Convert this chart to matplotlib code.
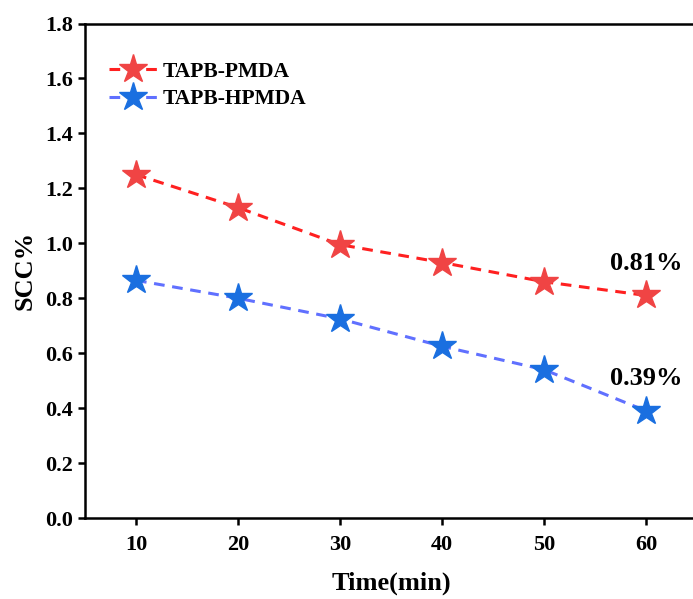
import matplotlib
matplotlib.use('Agg')
import matplotlib.pyplot as plt

# data
time_min = [10, 20, 30, 40, 50, 60]
scc_pmda = [1.25, 1.13, 0.995, 0.93, 0.86, 0.81]
scc_hpmda = [0.865, 0.80, 0.725, 0.625, 0.54, 0.39]
labels = ['TAPB-PMDA', 'TAPB-HPMDA']
end_notes = ['0.81%', '0.39%']

plt.rcParams['font.family'] = ['Liberation Serif', 'DejaVu Serif']
plt.rcParams['font.weight'] = 'bold'

fig = plt.figure(figsize=(6.93, 5.99), dpi=100)
ax = fig.add_axes([85 / 693, 1 - 518 / 599, (697 - 85) / 693, (518 - 23.5) / 599])

ax.plot(time_min, scc_pmda, linestyle=(0, (3.5, 2.5)), color='#ff2020', lw=2.2,
        marker='*', ms=21, markerfacecolor='#f04444', markeredgecolor='#f04444',
        label=labels[0])
ax.plot(time_min, scc_hpmda, linestyle=(0, (3.5, 2.5)), color='#6070ff', lw=2.2,
        marker='*', ms=21, markerfacecolor='#1a6fe0', markeredgecolor='#1a6fe0',
        label=labels[1])

ax.annotate(end_notes[0], (time_min[-1], scc_pmda[-1]), textcoords='offset points',
            xytext=(0, 15), ha='center', va='bottom', fontsize=19, fontweight='bold')
ax.annotate(end_notes[1], (time_min[-1], scc_hpmda[-1]), textcoords='offset points',
            xytext=(0, 15), ha='center', va='bottom', fontsize=19, fontweight='bold')

ax.set_xlim(5, 65)
ax.set_ylim(0, 1.8)
ax.set_xticks(time_min)
ax.set_yticks([0.0, 0.2, 0.4, 0.6, 0.8, 1.0, 1.2, 1.4, 1.6, 1.8])
ax.yaxis.set_major_formatter(matplotlib.ticker.FormatStrFormatter('%.1f'))

for s in ['left', 'bottom', 'top']:
    ax.spines[s].set_linewidth(1.8)
ax.spines['right'].set_visible(False)
ax.tick_params(direction='out', length=5, width=1.8, labelsize=16)
ax.tick_params(axis='x', pad=7)
for t in ax.get_xticklabels() + ax.get_yticklabels():
    t.set_fontweight('bold')

ax.set_xlabel('Time(min)', fontsize=19, fontweight='bold', labelpad=12)
ax.set_ylabel('SCC%', fontsize=19, fontweight='bold', labelpad=6)

ax.legend(loc='upper left', bbox_to_anchor=(0.008, 0.962), frameon=False,
          handlelength=2.2, handletextpad=0.3, labelspacing=0.35,
          prop={'weight': 'bold', 'size': 15.5})

fig.savefig('out.png', dpi=100)
